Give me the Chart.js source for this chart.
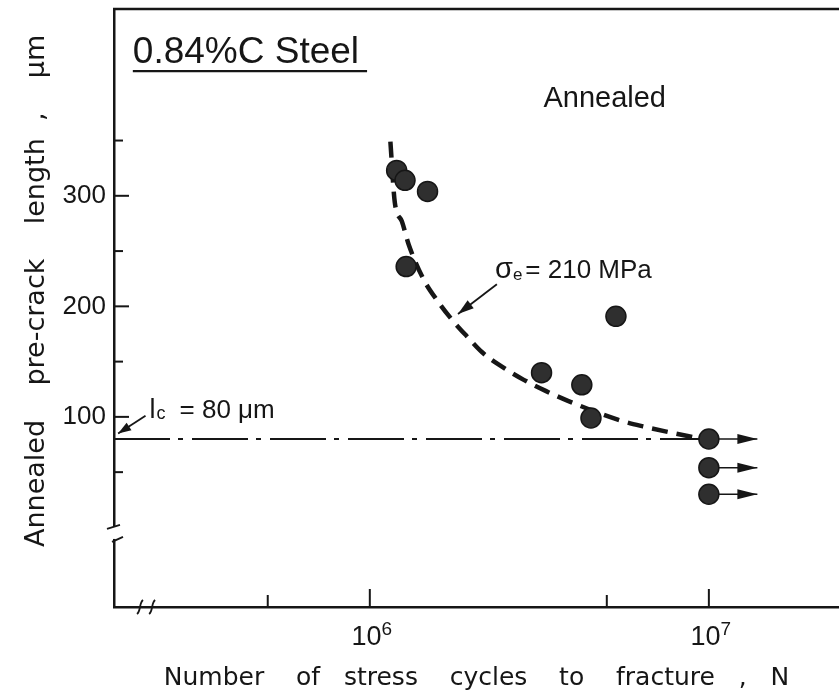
<!DOCTYPE html>
<html>
<head>
<meta charset="utf-8">
<script src="https://cdn.jsdelivr.net/npm/chart.js@4.4.1/dist/chart.umd.min.js"></script>
<style>
  html, body { margin: 0; padding: 0; background: #fff; overflow: hidden; }
  #wrap { width: 839px; height: 693px; position: relative; }
</style>
</head>
<body>
<div id="wrap"><canvas id="chart"></canvas></div>
<script>
// specimens that broke: cycles to fracture vs annealed pre-crack length (um)
const failedN = [1.20e6, 1.27e6, 1.48e6, 1.28e6, 3.21e6, 4.22e6, 4.49e6, 5.32e6];
const failedL = [323, 314, 304, 236, 140, 129, 99, 191];

// run-outs, stopped at 10^7 cycles (arrows)
const runoutN = [1e7, 1e7, 1e7];
const runoutL = [80, 54, 30];
const runoutEndN = 1.39e7;

// sigma_e = 210 MPa curve
const curveN = [1.150e6, 1.185e6, 1.243e6, 1.302e6, 1.443e6, 1.587e6, 1.746e6, 1.932e6, 2.153e6,
                2.465e6, 2.845e6, 3.30e6, 3.84e6, 5.36e6, 6.39e6, 7.67e6, 9.2e6];
const curveL = [349, 294, 277, 256, 224, 204.5, 188, 173, 158,
                145, 133.5, 123.5, 114.5, 97.7, 91.4, 86, 81];

// critical length lc = 80 um
const lcN = [1.76e5, 1e7];
const lcL = [80, 80];

// axes
const xMin = 1.76e5, xMax = 2.42e7;
const yMin = -72, yMax = 469;
const xLabelTicks = [1e6, 1e7];
const xLabelPower = ['6', '7'];
const xMinorTicks = [5e5, 5e6];
const yLabelTicks = [100, 200, 300];
const yMinorTicks = [50, 150, 250, 350];

const ink = '#161616';
const dot = '#2f2f2f';

function noEdgePadding(s) {
  s.paddingTop = 0;
  s.paddingBottom = 0;
  s.paddingLeft = 0;
  s.paddingRight = 0;
}

// ticks inside the frame, frame top, axis breaks, notes and arrows
const paperPlugin = {
  id: 'paper',
  afterDatasetsDraw(chart) {
    const {ctx, chartArea: a, scales: {x, y}} = chart;
    const px = v => x.getPixelForValue(v);
    const py = v => y.getPixelForValue(v);

    function seg(x1, y1, x2, y2, w) {
      ctx.lineWidth = w;
      ctx.beginPath();
      ctx.moveTo(x1, y1);
      ctx.lineTo(x2, y2);
      ctx.stroke();
    }
    function arrow(x1, y1, x2, y2, len, half) {
      seg(x1, y1, x2, y2, 1.8);
      const ang = Math.atan2(y2 - y1, x2 - x1);
      ctx.beginPath();
      ctx.moveTo(x2, y2);
      ctx.lineTo(x2 - len * Math.cos(ang) + half * Math.sin(ang), y2 - len * Math.sin(ang) - half * Math.cos(ang));
      ctx.lineTo(x2 - len * Math.cos(ang) - half * Math.sin(ang), y2 - len * Math.sin(ang) + half * Math.cos(ang));
      ctx.closePath();
      ctx.fill();
    }

    ctx.save();
    ctx.strokeStyle = ink;
    ctx.fillStyle = ink;

    // top of the frame
    seg(a.left - 1, a.top, a.right, a.top, 2.5);

    // inward tick marks
    yLabelTicks.forEach(v => seg(a.left, py(v), a.left + 15, py(v), 2));
    yMinorTicks.forEach(v => seg(a.left, py(v), a.left + 9, py(v), 2));
    xLabelTicks.forEach(v => seg(px(v), a.bottom, px(v), a.bottom - 18, 2));
    xMinorTicks.forEach(v => seg(px(v), a.bottom, px(v), a.bottom - 12, 2));

    // x tick labels 10^6, 10^7
    ctx.textBaseline = 'alphabetic';
    xLabelTicks.forEach((v, i) => {
      ctx.font = '27px "Liberation Sans"';
      const w1 = ctx.measureText('10').width;
      ctx.font = '19px "Liberation Sans"';
      const w2 = ctx.measureText(xLabelPower[i]).width;
      const left = px(v) + 2 - (w1 + w2) / 2;
      ctx.textAlign = 'left';
      ctx.font = '27px "Liberation Sans"';
      ctx.fillText('10', left, a.bottom + 38);
      ctx.font = '19px "Liberation Sans"';
      ctx.fillText(xLabelPower[i], left + w1, a.bottom + 28);
    });

    // axis breaks
    const by = py(-5);
    ctx.fillStyle = '#fff';
    ctx.fillRect(a.left - 4, by - 6, 8, 12);
    ctx.fillStyle = ink;
    seg(a.left - 7, by - 4, a.left + 6, by - 8, 1.8);
    seg(a.left - 2, by + 9, a.left + 9, by + 4, 1.8);
    ctx.lineWidth = 1.8;
    [2.1e5, 2.28e5].forEach(v => {
      const bx = px(v);
      ctx.beginPath();
      ctx.moveTo(bx - 3, a.bottom + 7);
      ctx.bezierCurveTo(bx + 1, a.bottom + 4, bx - 1, a.bottom - 4, bx + 3, a.bottom - 7);
      ctx.stroke();
    });

    // arrow-heads on the run-outs
    runoutL.forEach(l => {
      const tx = px(runoutEndN), ty = py(l);
      ctx.beginPath();
      ctx.moveTo(tx, ty);
      ctx.lineTo(tx - 20, ty - 5);
      ctx.lineTo(tx - 20, ty + 5);
      ctx.closePath();
      ctx.fill();
    });

    // pointer arrows
    arrow(px(2.37e6), py(220), px(1.82e6), py(193), 16, 5);
    arrow(px(2.18e5), py(101), px(1.81e5), py(85), 13, 4.5);

    // texts
    ctx.textAlign = 'left';
    ctx.font = '37px "Liberation Sans"';
    const tx0 = px(2.0e5), ty0 = py(420);
    ctx.fillText('0.84%C Steel', tx0, ty0);
    const tw = ctx.measureText('0.84%C Steel').width;
    seg(tx0, ty0 + 8, tx0 + tw + 8, ty0 + 8, 2.2);

    ctx.textAlign = 'center';
    ctx.font = '29px "Liberation Sans"';
    ctx.fillText('Annealed', px(4.93e6), py(380));

    ctx.textAlign = 'left';
    let sx = px(2.34e6);
    const sy = py(226);
    ctx.font = '29px "Liberation Sans"';
    ctx.fillText('\u03c3', sx, sy);
    sx += ctx.measureText('\u03c3').width;
    ctx.font = '17px "Liberation Sans"';
    ctx.fillText('e', sx, sy + 2);
    sx += ctx.measureText('e').width + 3;
    ctx.font = '26px "Liberation Sans"';
    ctx.fillText('= 210 MPa', sx, sy);

    let lx = px(2.24e5);
    const ly = py(99);
    ctx.font = '27px "Liberation Sans"';
    ctx.fillText('l', lx, ly);
    lx += ctx.measureText('l').width + 1;
    ctx.font = '18px "Liberation Sans"';
    ctx.fillText('c', lx, ly + 1);
    lx += ctx.measureText('c').width + 14;
    ctx.font = '26px "Liberation Sans"';
    ctx.fillText('= 80 \u03bcm', lx, ly);

    ctx.restore();
  }
};

const datasets = [
  {
    type: 'scatter',
    data: failedN.map((n, i) => ({x: n, y: failedL[i]})),
    pointRadius: 10,
    pointBackgroundColor: dot,
    pointBorderColor: ink,
    pointBorderWidth: 1.5
  },
  ...runoutL.map((l, i) => ({
    type: 'line',
    data: [{x: runoutN[i], y: l}, {x: runoutEndN, y: l}],
    borderColor: ink,
    borderWidth: 1.6,
    pointRadius: [10, 0],
    pointBackgroundColor: dot,
    pointBorderColor: ink,
    pointBorderWidth: 1.5
  })),
  {
    type: 'line',
    data: curveN.map((n, i) => ({x: n, y: curveL[i]})),
    borderColor: ink,
    borderWidth: 4.5,
    borderDash: [16, 9],
    cubicInterpolationMode: 'monotone',
    pointRadius: 0
  },
  {
    type: 'line',
    data: lcN.map((n, i) => ({x: n, y: lcL[i]})),
    borderColor: ink,
    borderWidth: 1.8,
    borderDash: [56, 8, 5, 9],
    pointRadius: 0
  }
];

new Chart(document.getElementById('chart'), {
  data: {datasets: datasets},
  options: {
    responsive: true,
    maintainAspectRatio: false,
    animation: false,
    events: [],
    layout: {autoPadding: false, padding: {top: 9, right: 0, bottom: 0, left: 0}},
    plugins: {legend: {display: false}, tooltip: {enabled: false}},
    scales: {
      x: {
        type: 'logarithmic',
        min: xMin,
        max: xMax,
        afterBuildTicks: s => { s.ticks = xLabelTicks.map(v => ({value: v})); },
        afterFit: s => { s.height = 86; noEdgePadding(s); },
        grid: {display: false, drawTicks: false},
        border: {display: true, color: ink, width: 2.5},
        ticks: {display: false},
        title: {
          display: true,
          text: 'Number    of   stress    cycles    to    fracture   ,   N',
          color: ink,
          font: {family: 'DejaVu Sans', size: 25},
          padding: {top: 0, bottom: 0}
        }
      },
      y: {
        type: 'linear',
        min: yMin,
        max: yMax,
        afterBuildTicks: s => { s.ticks = yLabelTicks.map(v => ({value: v})); },
        afterFit: s => { s.width = 114; noEdgePadding(s); },
        grid: {display: false, drawTicks: false},
        border: {display: true, color: ink, width: 2.5},
        ticks: {
          color: ink,
          font: {family: 'Liberation Sans', size: 26},
          padding: 8
        },
        title: {
          display: true,
          text: '    Annealed    pre-crack    length  ,    \u03bcm',
          color: ink,
          font: {family: 'DejaVu Sans', size: 27},
          padding: {top: 21, bottom: 0}
        }
      }
    }
  },
  plugins: [paperPlugin]
});
</script>
</body>
</html>
